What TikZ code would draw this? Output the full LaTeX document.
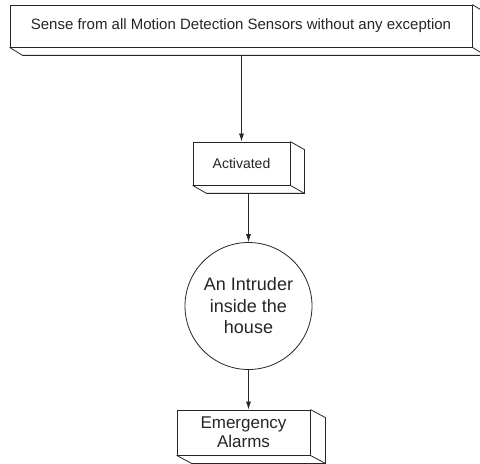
\documentclass[tikz,border=0pt]{standalone}
\usepackage{fontspec}
\setmainfont{Liberation Sans}
\usetikzlibrary{arrows.meta,calc}

% extruded box: front face plus right and bottom depth faces
\newcommand{\boxdepth}[3]{%
  \draw[edge] (#1.north east) -- ++(#2,#3)
              -- ($(#1.south east)+(#2,#3)$)
              -- ($(#1.south west)+(#2,#3)$)
              -- (#1.south west);
  \draw[edge] (#1.south east) -- ++(#2,#3);
}

\begin{document}
\begin{tikzpicture}[x=1bp,y=-1bp,
  edge/.style={draw=black!85,line width=0.8bp},
  frontbox/.style={edge,rectangle,fill=white,inner sep=0pt,align=center,text=black!85},
  bubble/.style={edge,circle,fill=white,inner sep=0pt,align=center,text=black!85,minimum size=127bp},
  arr/.style={edge,-{Latex[length=8bp,width=5bp]}}]
\useasboundingbox (0,0) rectangle (480,464);

\node[frontbox,minimum width=462bp,minimum height=42bp,font=\fontsize{15bp}{17bp}\selectfont]
  (top) at (241,26) {Sense from all Motion Detection Sensors without any exception};
\boxdepth{top}{13}{8}

\node[frontbox,minimum width=97bp,minimum height=43bp,font=\fontsize{14bp}{17bp}\selectfont]
  (act) at (241.5,163.5) {Activated};
\boxdepth{act}{14}{8}

\node[bubble,font=\fontsize{18bp}{21.5bp}\selectfont]
  (intr) at (248.5,306) {An Intruder\\inside the\\house};

\node[frontbox,minimum width=133bp,minimum height=45bp,font=\fontsize{17bp}{19bp}\selectfont]
  (alarm) at (243.5,432.5) {Emergency\\Alarms};
\boxdepth{alarm}{15}{8}

\coordinate (topbase) at ($(top.south)+(0,8)$);
\coordinate (actbase) at ($(act.south)+(0,8)$);

\draw[arr] (act.north |- topbase) -- (act.north);
\draw[arr] (intr.north |- actbase) -- (intr.north);
\draw[arr] (intr.south) -- (intr.south |- alarm.north);
\end{tikzpicture}
\end{document}
